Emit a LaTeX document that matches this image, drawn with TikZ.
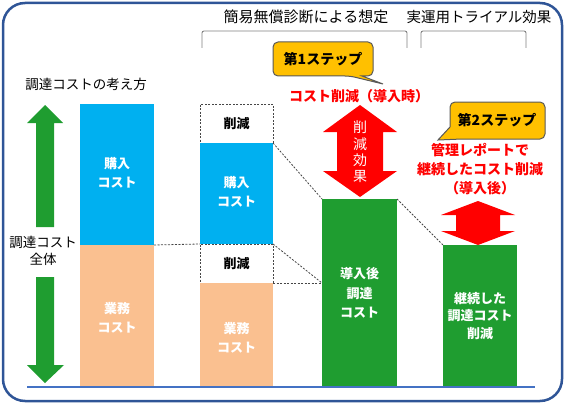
\documentclass[tikz,border=0pt]{standalone}
\usepackage{fontspec}
\setmainfont{Noto Sans CJK JP}
\definecolor{cblue}{RGB}{0,176,240}
\definecolor{corange}{RGB}{250,192,144}
\definecolor{cgreen}{RGB}{31,157,48}
\definecolor{cred}{RGB}{255,0,0}
\definecolor{cyellow}{RGB}{255,192,0}
\definecolor{cframe}{RGB}{47,85,151}
\definecolor{cbase}{RGB}{68,114,196}
\definecolor{cdash}{RGB}{70,70,70}
\begin{document}
\begin{tikzpicture}[x=1pt,y=-1pt,
  bar/.style={rectangle,inner sep=0pt,outer sep=0pt,anchor=north west,text=white,align=center,
     font=\fontsize{13}{17}\selectfont\bfseries},
  cutbox/.style={rectangle,inner sep=0pt,outer sep=0pt,anchor=north west,draw=cdash,dashed,
     dash pattern=on 2pt off 1.5pt,line width=0.9pt,font=\fontsize{13}{16}\selectfont\bfseries},
  dline/.style={draw=cdash,line width=0.8pt,dash pattern=on 2pt off 1.5pt},
  lbl/.style={inner sep=0pt,align=center,font=\fontsize{13.5}{17}\selectfont},
  redlbl/.style={inner sep=0pt,align=center,text=cred,font=\fontsize{14}{19}\selectfont\bfseries},
  callout/.style={fill=cyellow,draw=black!65,line width=1pt},
  brk/.style={draw=black!50,line width=0.9pt,rounded corners=2pt}]
\useasboundingbox (0,0) rectangle (565,404);
% frame
\draw[cframe,line width=2.5pt,rounded corners=22pt] (3,3) rectangle (562,401);
% titles
\node[lbl,font=\fontsize{15}{18}\selectfont] (t1) at (306,17) {簡易無償診断による想定};
\node[lbl,font=\fontsize{14.5}{18}\selectfont] (t2) at (479,17) {実運用トライアル効果};
\draw[brk] (202,48) -- (202,31) -- (407,31) -- (407,48);
\draw[brk] (421,48) -- (421,31) -- (526,31) -- (526,48);
% left labels and arrows
\node[lbl] (kangae) at (86,84) {調達コストの考え方};
\node[lbl] (zentai) at (43,251) {調達コスト\\全体};
\fill[cgreen] (45,105) -- (63,123) -- (54,123) -- (54,227) -- (36,227) -- (36,123) -- (27,123) -- cycle;
\fill[cgreen] (45,383) -- (64,365) -- (54,365) -- (54,277) -- (36,277) -- (36,365) -- (27,365) -- cycle;
% column 1
\node[bar,fill=cblue,minimum width=74pt,minimum height=141pt] (b1) at (80,104) {};
\node[lbl,text=white,font=\fontsize{13}{19}\selectfont\bfseries] (b1t) at (117,173) {購入\\コスト};
\node[bar,fill=corange,minimum width=74pt,minimum height=142pt] (o1) at (80,245) {};
\node[lbl,text=white,font=\fontsize{13}{19}\selectfont\bfseries] (o1t) at (117,318) {業務\\コスト};
% column 2
\node[cutbox,minimum width=73pt,minimum height=39pt] (c1) at (200,104) {削減};
\node[bar,fill=cblue,minimum width=73pt,minimum height=101pt] (b2) at (200,143) {};
\node[lbl,text=white,font=\fontsize{13}{19}\selectfont\bfseries] (b2t) at (236.5,192) {購入\\コスト};
\node[cutbox,minimum width=73pt,minimum height=39pt] (c2) at (200,244) {削減};
\node[bar,fill=corange,minimum width=73pt,minimum height=104pt] (o2) at (200,283) {};
\node[lbl,text=white,font=\fontsize{13}{19}\selectfont\bfseries] (o2t) at (236.5,338) {業務\\コスト};
% green bars
\node[bar,fill=cgreen,minimum width=75pt,minimum height=188pt,
  font=\fontsize{13}{19.5}\selectfont\bfseries] (g1) at (322,199) {導入後\\調達\\コスト};
\node[bar,fill=cgreen,minimum width=74pt,minimum height=142pt,
  font=\fontsize{13}{17.5}\selectfont\bfseries] (g2) at (443,245) {継続した\\調達コスト\\削減};
% dashed connectors
\coordinate (g1p) at (g1.west |- c2.south);
\draw[dline] (b1.south east) -- (c2.north west);
\draw[dline] (b2.north east) -- (g1.north west);
\draw[dline] (c2.north east) -- (g1p);
\draw[dline] (c2.south east) -- (g1p);
\draw[dline] (g1.north east) -- (g2.north west);
% baseline
\draw[cbase,line width=1.2pt] (27,387) -- (535,387);
% red arrows
\fill[cred] (360,105) -- (397,132) -- (383,132) -- (383,171) -- (397,171) -- (360,197) -- (323,171) -- (337,171) -- (337,132) -- (323,132) -- cycle;
\node[lbl,text=white,font=\fontsize{14}{16.3}\selectfont] (eff) at (360,152) {削\\減\\効\\果};
\fill[cred] (478,201) -- (515,215) -- (500,215) -- (500,231) -- (515,231) -- (478,245) -- (441,231) -- (456,231) -- (456,215) -- (441,215) -- cycle;
% callouts
\draw[callout] (362,76) [rounded corners=5pt] -- (373,76) -- (373,42) -- (273,42) -- (273,76) -- (350,76) [sharp corners] -- (383,84) -- cycle;
\node[lbl,font=\fontsize{14}{17}\selectfont\bfseries] (s1) at (323,59) {第1ステップ};
\draw[callout] (450,127) [rounded corners=5pt] -- (450,102) -- (545,102) -- (545,139) -- (462,139) [sharp corners] -- (438,140) -- cycle;
\node[lbl,font=\fontsize{14}{17}\selectfont\bfseries] (s2) at (497,120) {第2ステップ};
% red texts
\node[redlbl] (r1) at (359,96) {コスト削減（導入時）};
\node[redlbl] (r2) at (480,169) {管理レポートで\\継続したコスト削減\\（導入後）};
\end{tikzpicture}
\end{document}
